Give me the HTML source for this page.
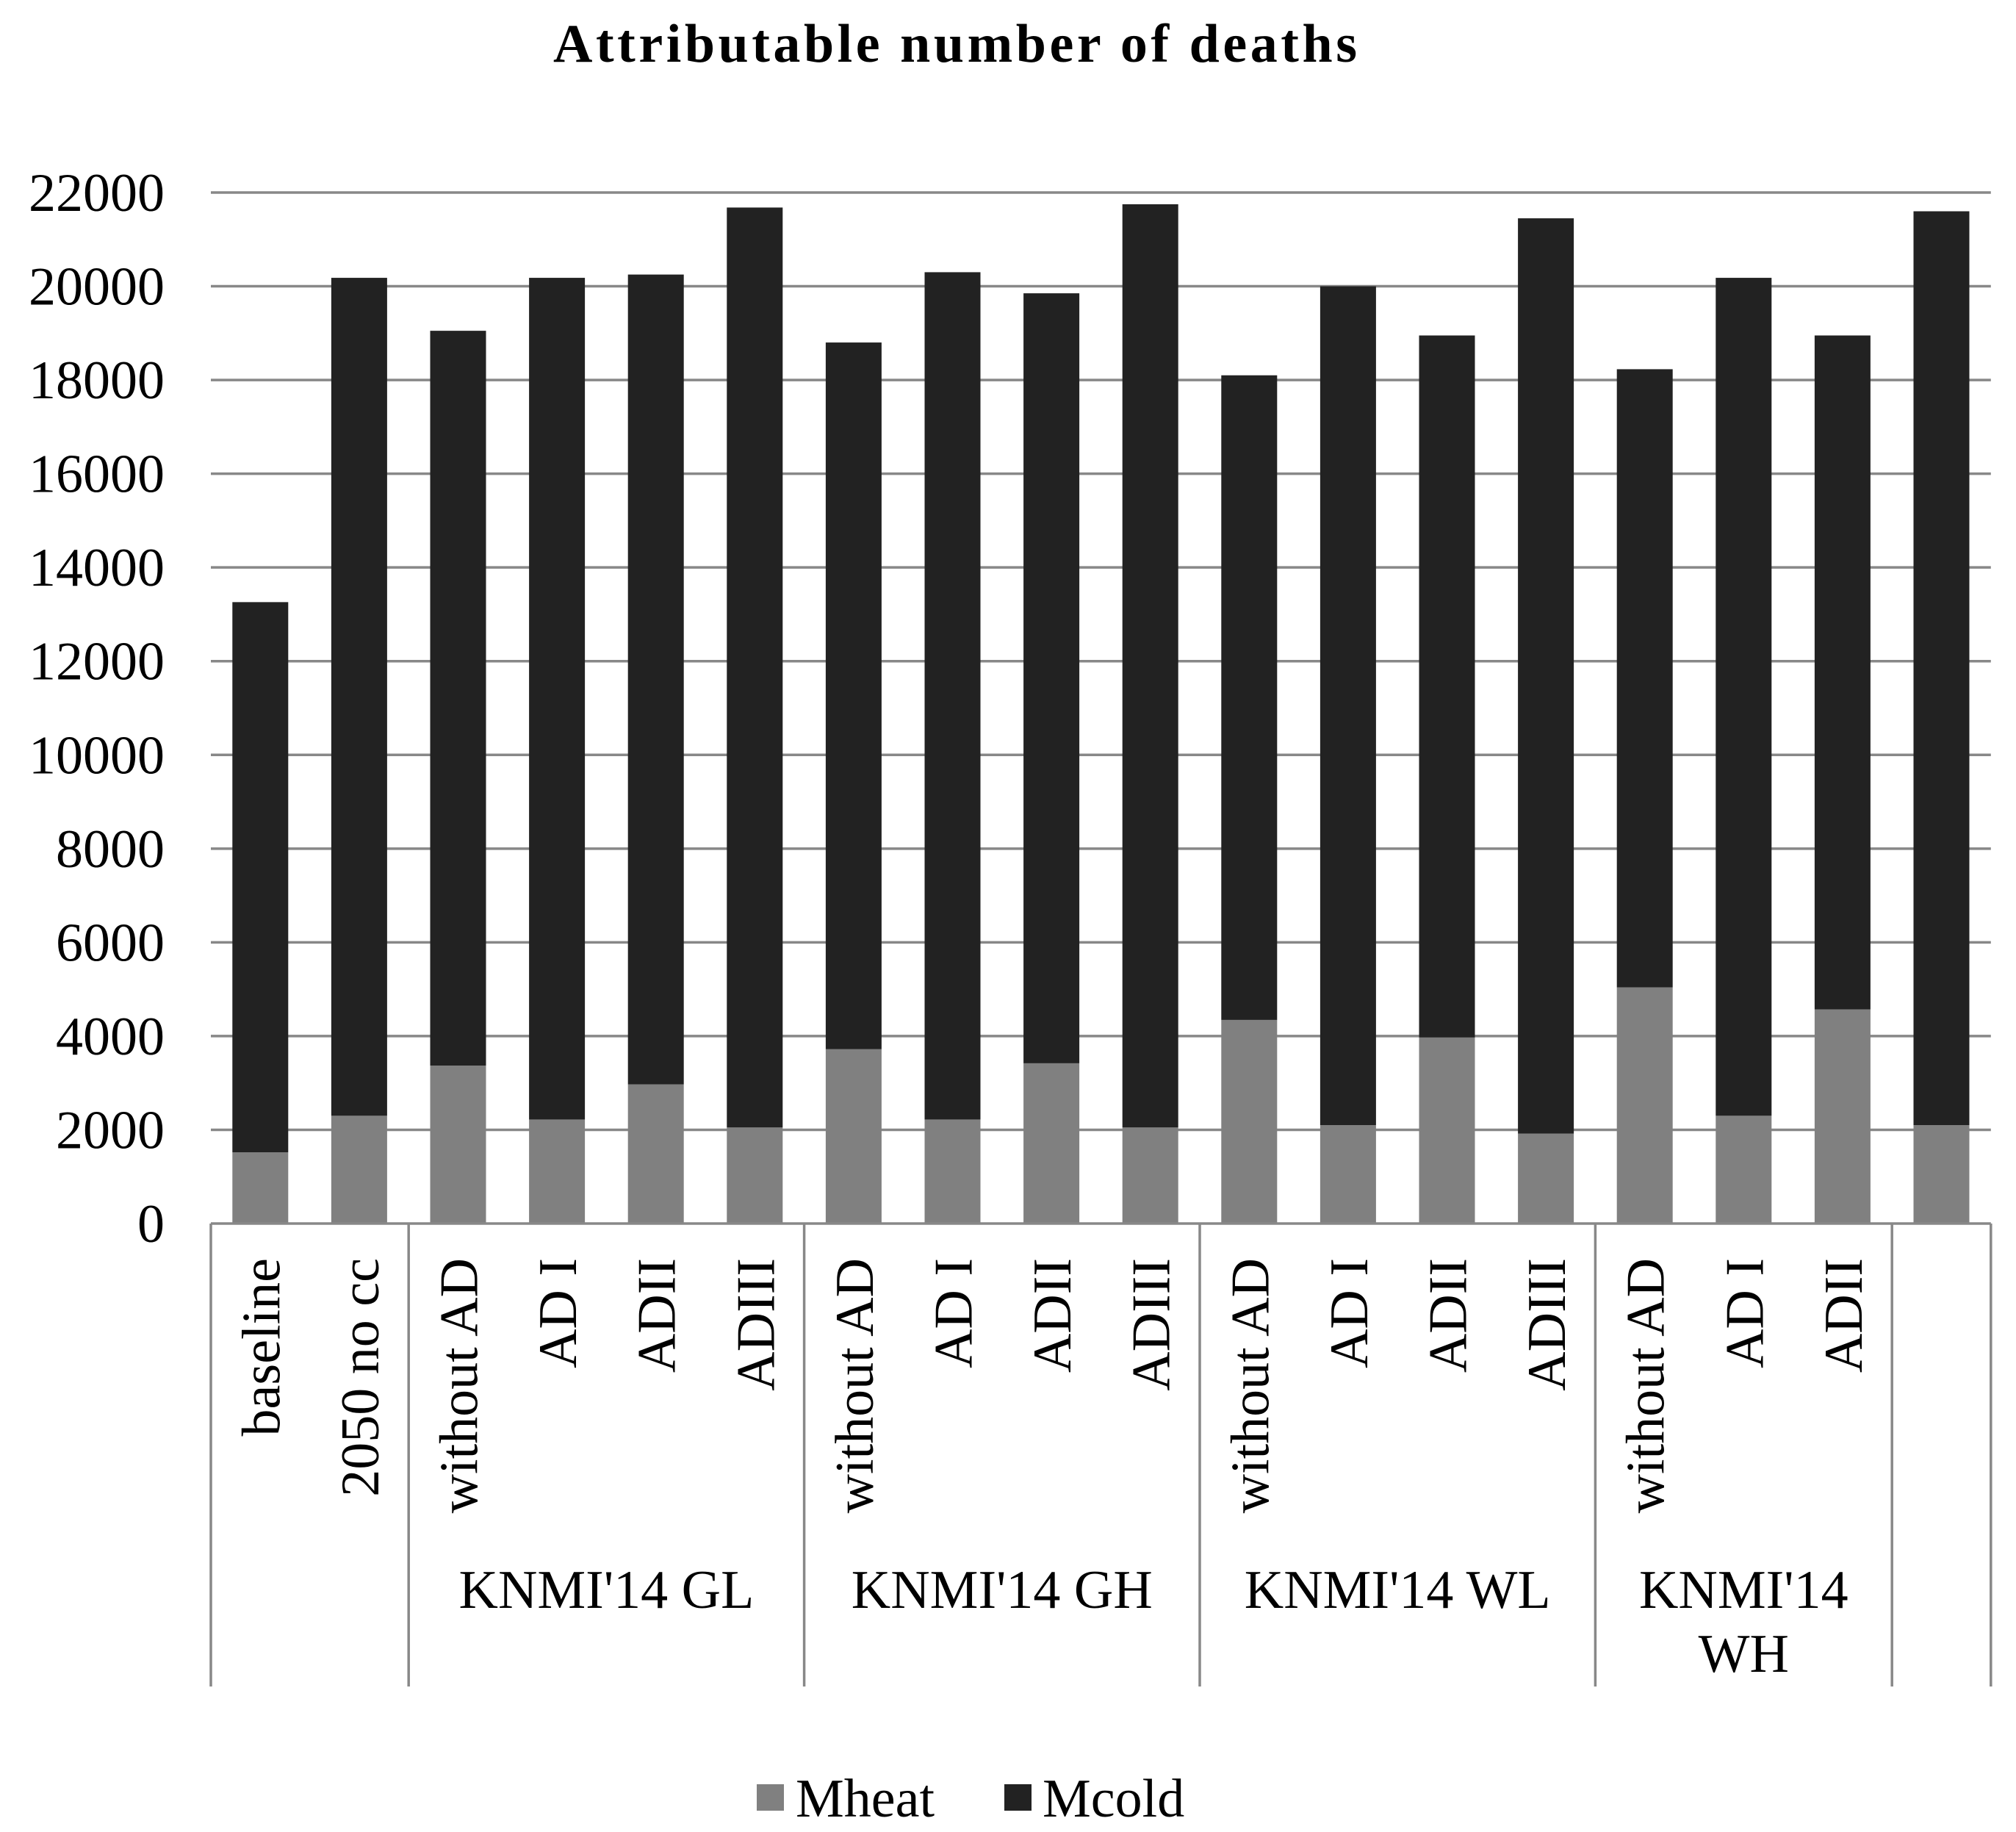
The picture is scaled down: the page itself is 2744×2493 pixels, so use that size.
<!DOCTYPE html>
<html><head><meta charset="utf-8">
<style>
html,body{margin:0;padding:0;background:#fff;}
svg{display:block;}
text{font-family:"Liberation Serif","Times New Roman",serif;fill:#000;}
</style></head>
<body>
<svg id="chart" width="2744" height="2493" viewBox="0 0 2744 2493" xmlns="http://www.w3.org/2000/svg">
<text x="1300" y="84" text-anchor="middle" font-size="74" font-weight="bold" textLength="1094" lengthAdjust="spacing">Attributable number of deaths</text>
<g id="grid"></g>
<g id="yticks"></g>
<g id="bars"></g>
<g id="xaxis"></g>
<g>
  <rect x="1030" y="2428" width="37" height="36" fill="#808080"/>
  <text x="1083" y="2472" font-size="74">Mheat</text>
  <rect x="1367" y="2428" width="37" height="36" fill="#222222"/>
  <text x="1419" y="2472" font-size="74">Mcold</text>
</g>
</svg>
<script>
const categories = ["baseline","2050 no cc","without AD","AD I","ADII","ADIII","without AD","AD I","ADII","ADIII","without AD","AD I","ADII","ADIII","without AD","AD I","ADII",""];
const mheat = [1520,2300,3370,2220,2970,2050,3720,2220,3420,2050,4345,2100,3970,1920,5040,2300,4570,2100];
const totals = [13260,20180,19050,20180,20250,21680,18800,20300,19850,21750,18100,20000,18950,21450,18230,20180,18950,21600];
const yTicks = [0,2000,4000,6000,8000,10000,12000,14000,16000,18000,20000,22000];
const groupNames = [[""],["KNMI'14 GL"],["KNMI'14 GH"],["KNMI'14 WL"],["KNMI'14","WH"],[""]];
const groupStarts = [0,2,6,10,14,17];
const groupEnds = [2,6,10,14,17,18];

const NS="http://www.w3.org/2000/svg";
const X0=287, BAND=134.6, Y0=1665, Y22=262, BARW=76;
function yScale(v){return Y0-(v/22000)*(Y0-Y22);}
function xBand(i){return X0+i*BAND;}
function mk(tag,attrs,parent){const e=document.createElementNS(NS,tag);for(const k in attrs)e.setAttribute(k,attrs[k]);parent.appendChild(e);return e;}

const grid=document.getElementById('grid'), yt=document.getElementById('yticks'), bars=document.getElementById('bars'), xa=document.getElementById('xaxis');
const XR=xBand(categories.length);
yTicks.forEach(v=>{
  if(v>0){
    const l=mk('line',{x1:X0,x2:XR,y1:yScale(v),y2:yScale(v),stroke:'#888',"stroke-width":3.5},grid);
    
    
  }
  const t=mk('text',{x:224,y:yScale(v)+25,"text-anchor":"end","font-size":74},yt);
  t.textContent=v;
  
  
});
categories.forEach((c,i)=>{
  const cx=xBand(i)+BAND/2, x=cx-BARW/2;
  const h=mk('rect',{x:x,y:yScale(mheat[i]),width:BARW,height:Y0-yScale(mheat[i]),fill:'#808080'},bars);
  
  
  const cd=mk('rect',{x:x,y:yScale(totals[i]),width:BARW,height:yScale(mheat[i])-yScale(totals[i]),fill:'#222222'},bars);
  
  
  if(c){
    const t=mk('text',{x:0,y:0,"text-anchor":"end","font-size":74,transform:`translate(${cx+26},1712) rotate(-90)`},xa);
    t.textContent=c;
    
    
  }
});
const ax=mk('line',{x1:X0,x2:XR,y1:Y0,y2:Y0,stroke:'#888',"stroke-width":3.5},xa);


const seps=[0,2,6,10,14,17,18];
seps.forEach(k=>{
  const l=mk('line',{x1:xBand(k),x2:xBand(k),y1:Y0,y2:2295,stroke:'#888',"stroke-width":3.5},xa);
  
  
});
groupNames.forEach((g,i)=>{
  const cx=(xBand(groupStarts[i])+xBand(groupEnds[i]))/2;
  g.forEach((line,j)=>{
    if(!line) return;
    const t=mk('text',{x:cx,y:2188+j*87,"text-anchor":"middle","font-size":74},xa);
    t.textContent=line;
    
    
  });
});
</script>
</body></html>
